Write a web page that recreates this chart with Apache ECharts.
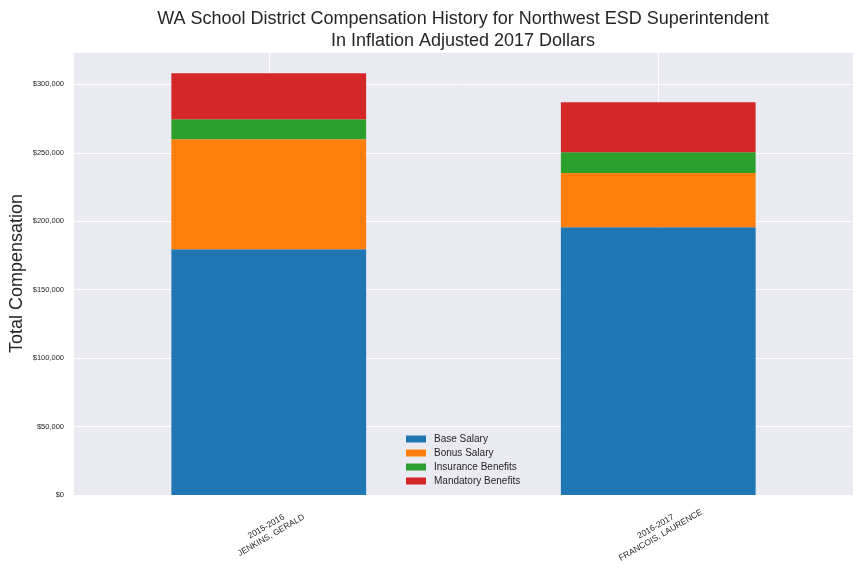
<!DOCTYPE html>
<html>
<head>
<meta charset="utf-8">
<script src="https://cdn.jsdelivr.net/npm/echarts@6/dist/echarts.min.js"></script>
<style>html,body{margin:0;padding:0;background:#fff}#c{width:864px;height:576px}</style>
</head>
<body>
<div id="c"></div>
<script>
const categories = ['2015-2016\nJENKINS, GERALD', '2016-2017\nFRANCOIS, LAURENCE'];
const seriesNames = ['Base Salary', 'Bonus Salary', 'Insurance Benefits', 'Mandatory Benefits'];
const baseSalary = [179600, 195700];
const bonusSalary = [80400, 39500];
const insuranceBenefits = [14600, 15300];
const mandatoryBenefits = [33600, 36500];
const colors = ['#1f77b4', '#ff7f0e', '#2ca02c', '#d62728'];
const yMax = 323660;
const yInterval = 50000;

const allValues = [baseSalary, bonusSalary, insuranceBenefits, mandatoryBenefits];
const font = 'Liberation Sans, Arial, sans-serif';
const txt = '#262626';

function fmt(v) {
  return '$' + String(Math.round(v)).replace(/\B(?=(\d{3})+(?!\d))/g, ',');
}

const chart = echarts.init(document.getElementById('c'), null, {renderer: 'canvas'});
chart.setOption({
  animation: false,
  backgroundColor: '#ffffff',
  color: colors,
  textStyle: {fontFamily: font},
  title: {
    text: 'WA School District Compensation History for Northwest ESD Superintendent\nIn Inflation Adjusted 2017 Dollars',
    left: 463,
    textAlign: 'center',
    top: 8,
    padding: 0,
    textStyle: {fontFamily: font, fontSize: 18, fontWeight: 'normal', color: txt, lineHeight: 22}
  },
  grid: {left: 74, right: 11, top: 52, bottom: 81, show: true, backgroundColor: '#EAEAF2', borderWidth: 0, containLabel: false, outerBoundsMode: 'none'},
  legend: {
    orient: 'vertical',
    left: 406,
    top: 433.5,
    padding: 0,
    icon: 'rect',
    itemWidth: 20,
    itemHeight: 7,
    itemGap: 3,
    textStyle: {fontFamily: font, fontSize: 10, color: txt, lineHeight: 11, padding: [0, 0, 0, 3]},
    data: seriesNames
  },
  xAxis: {
    type: 'category',
    data: categories,
    boundaryGap: true,
    axisLine: {show: false},
    axisTick: {show: false},
    splitLine: {show: true, alignWithLabel: true, lineStyle: {color: '#ffffff', width: 1}},
    axisLabel: {
      rotate: 30, align: 'center', verticalAlign: 'middle', margin: 36,
      fontFamily: font, fontSize: 8.5, lineHeight: 10, color: txt
    }
  },
  yAxis: {
    type: 'value',
    min: 0,
    max: yMax,
    interval: yInterval,
    name: 'Total Compensation',
    nameLocation: 'middle',
    nameGap: 48,
    nameMoveOverlap: false,
    nameTextStyle: {fontFamily: font, fontSize: 18, color: txt},
    axisLine: {show: false},
    axisTick: {show: false},
    splitLine: {show: true, lineStyle: {color: '#ffffff', width: 1}},
    axisLabel: {showMaxLabel: false, formatter: fmt, fontFamily: font, fontSize: 7.5, color: txt, margin: 10}
  },
  series: seriesNames.map((name, i) => ({
    name: name,
    type: 'bar',
    stack: 'total',
    barWidth: '50%',
    data: allValues[i],
    itemStyle: {color: colors[i]}
  }))
});
</script>
</body>
</html>
